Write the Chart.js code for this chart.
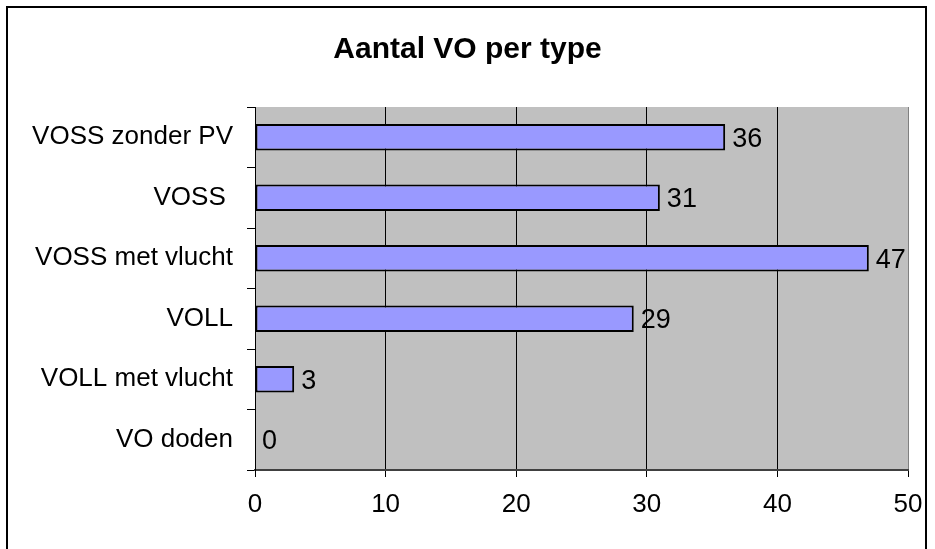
<!DOCTYPE html>
<html>
<head>
<meta charset="utf-8">
<script src="https://cdn.jsdelivr.net/npm/chart.js@4"></script>
<style>
  html, body { margin: 0; padding: 0; background: #fff; }
  #wrap { position: relative; width: 935px; height: 549px; overflow: hidden; }
  #frame { position: absolute; left: 6px; top: 6px; width: 917px; height: 600px;
           border: 2px solid #000; pointer-events: none; }
</style>
</head>
<body>
<div id="wrap">
  <canvas id="myChart1" width="935" height="549"></canvas>
  <div id="frame"></div>
</div>
<script>
const categories = ['VOSS zonder PV', 'VOSS ', 'VOSS met vlucht', 'VOLL', 'VOLL met vlucht', 'VO doden'];
const counts = [36, 31, 47, 29, 3, 0];
const xTicks = [0, 10, 20, 30, 40, 50];

// grijze achtergrond van het plotgebied
const plotBg = {
    id: 'plotBg',
    beforeDraw(chart) {
        const a = chart.chartArea;
        const c = chart.ctx;
        c.save();
        c.fillStyle = '#c0c0c0';
        c.fillRect(a.left, a.top, a.right - a.left, a.bottom - a.top);
        c.restore();
    }
};

// getallen naast de balken
const barLabels = {
    id: 'barLabels',
    afterDatasetsDraw(chart) {
        const c = chart.ctx;
        const meta = chart.getDatasetMeta(0);
        c.save();
        c.font = '27px "Liberation Sans", Arial, sans-serif';
        c.fillStyle = '#000';
        c.textAlign = 'left';
        c.textBaseline = 'middle';
        meta.data.forEach(function (bar, i) {
            c.fillText(String(counts[i]), bar.x + 7, bar.y + 2);
        });
        c.restore();
    }
};

const chartdata = {
    labels: categories,
    datasets: [{
        label: 'Aantal',
        backgroundColor: '#9999ff',
        borderColor: '#000',
        borderWidth: 2,
        borderSkipped: false,
        barPercentage: 0.44,
        categoryPercentage: 1,
        data: counts
    }]
};

const config = {
    type: 'bar',
    data: chartdata,
    plugins: [plotBg, barLabels],
    options: {
        indexAxis: 'y',
        animation: false,
        responsive: false,
        layout: { padding: { left: 27, right: 27, top: 0, bottom: 0 } },
        plugins: {
            legend: { display: false },
            tooltip: { enabled: false },
            title: {
                display: true,
                text: 'Aantal VO per type',
                color: '#000',
                font: { family: '"Liberation Sans", Arial, sans-serif', size: 30, weight: 'bold' },
                padding: { top: 32, bottom: 39 }
            }
        },
        scales: {
            x: {
                min: 0,
                max: 50,
                afterBuildTicks: function (scale) {
                    scale.ticks = xTicks.map(function (v) { return { value: v }; });
                },
                afterFit: function (scale) { scale.height = 79; },
                border: { color: '#404040', width: 2 },
                grid: {
                    color: function (ctx) { return ctx.tick && ctx.tick.value === 50 ? '#808080' : '#000'; },
                    tickColor: '#000',
                    tickLength: 7,
                    lineWidth: 1
                },
                ticks: {
                    color: '#000',
                    padding: 12,
                    font: { family: '"Liberation Sans", Arial, sans-serif', size: 26 }
                }
            },
            y: {
                afterFit: function (scale) { scale.width = 228; },
                border: { color: '#000', width: 1 },
                grid: {
                    offset: true,
                    drawOnChartArea: false,
                    tickColor: '#000',
                    tickLength: 8
                },
                ticks: {
                    color: '#000',
                    padding: 14,
                    font: { family: '"Liberation Sans", Arial, sans-serif', size: 26 }
                }
            }
        }
    }
};

var myChart = new Chart(document.getElementById('myChart1'), config);
</script>
</body>
</html>
